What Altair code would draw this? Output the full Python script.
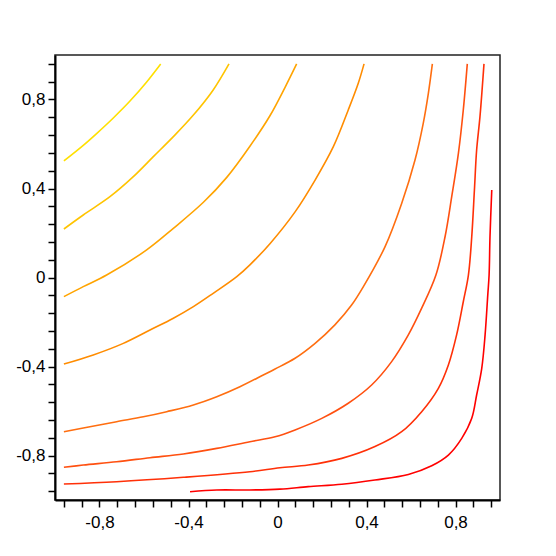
import altair as alt
import pandas as pd

# Contour levels (top-left = yellow ... bottom-right = red)
c1_x = [-0.960, -0.873, -0.813, -0.738, -0.663, -0.588, -0.525]
c1_y = [0.524, 0.594, 0.647, 0.717, 0.793, 0.879, 0.960]

c2_x = [-0.960, -0.873, -0.753, -0.648, -0.558, -0.468, -0.378, -0.289, -0.218]
c2_y = [0.218, 0.281, 0.363, 0.453, 0.543, 0.633, 0.730, 0.843, 0.960]

c3_x = [-0.960, -0.873, -0.768, -0.588, -0.468, -0.333, -0.228, -0.124, -0.034, 0.034, 0.086]
c3_y = [-0.086, -0.041, 0.011, 0.124, 0.221, 0.338, 0.450, 0.590, 0.727, 0.855, 0.960]

c4_x = [-0.960, -0.828, -0.693, -0.573, -0.468, -0.378, -0.289, -0.183, -0.124, -0.034,
        0.079, 0.169, 0.251, 0.318, 0.363, 0.389]
c4_y = [-0.389, -0.348, -0.296, -0.236, -0.183, -0.131, -0.071, 0.004, 0.057, 0.152,
        0.295, 0.438, 0.588, 0.753, 0.873, 0.960]

c5_x = [-0.960, -0.843, -0.723, -0.603, -0.498, -0.378, -0.273, -0.169, -0.064, -0.011,
        0.079, 0.169, 0.258, 0.333, 0.386, 0.483, 0.558, 0.618, 0.655, 0.678, 0.696]
c5_y = [-0.693, -0.671, -0.648, -0.626, -0.603, -0.573, -0.536, -0.491, -0.438, -0.411,
        -0.363, -0.296, -0.213, -0.124, -0.041, 0.138, 0.333, 0.528, 0.693, 0.828, 0.960]

c6_x = [-0.960, -0.873, -0.723, -0.573, -0.423, -0.273, -0.124, -0.011, 0.079, 0.199,
        0.318, 0.423, 0.513, 0.588, 0.648, 0.712, 0.753, 0.783, 0.813, 0.835, 0.853]
c6_y = [-0.853, -0.843, -0.828, -0.810, -0.793, -0.768, -0.738, -0.716, -0.685, -0.633,
        -0.565, -0.483, -0.378, -0.258, -0.138, 0.011, 0.183, 0.363, 0.558, 0.753, 0.960]

c7_x = [-0.960, -0.723, -0.423, -0.124, 0.011, 0.138, 0.289, 0.438, 0.558, 0.648,
        0.723, 0.768, 0.805, 0.835, 0.858, 0.873, 0.885, 0.895, 0.910, 0.928]
c7_y = [-0.928, -0.918, -0.898, -0.873, -0.855, -0.843, -0.813, -0.760, -0.693, -0.603,
        -0.498, -0.393, -0.258, -0.109, 0.011, 0.183, 0.393, 0.573, 0.723, 0.960]

c8_x = [-0.393, -0.273, -0.124, 0.011, 0.138, 0.289, 0.438, 0.588, 0.693, 0.768,
        0.828, 0.873, 0.895, 0.918, 0.933, 0.945, 0.951, 0.955, 0.963]
c8_y = [-0.963, -0.955, -0.955, -0.951, -0.940, -0.929, -0.910, -0.885, -0.846, -0.798,
        -0.723, -0.633, -0.528, -0.408, -0.258, -0.079, 0.011, 0.183, 0.393]

curve_names = ["c1", "c2", "c3", "c4", "c5", "c6", "c7", "c8"]
curve_colors = ["#FFE000", "#FFC400", "#FFA400", "#FF8C00", "#FF6E10", "#FF5010", "#FF3008", "#FF0000"]

tick_values = [-0.96, -0.88, -0.8, -0.72, -0.64, -0.56, -0.48, -0.4, -0.32, -0.24, -0.16, -0.08,
               0.0, 0.08, 0.16, 0.24, 0.32, 0.4, 0.48, 0.56, 0.64, 0.72, 0.8, 0.88, 0.96]

xs = [c1_x, c2_x, c3_x, c4_x, c5_x, c6_x, c7_x, c8_x]
ys = [c1_y, c2_y, c3_y, c4_y, c5_y, c6_y, c7_y, c8_y]

rows = []
for name, cx, cy in zip(curve_names, xs, ys):
    for i, (a, b) in enumerate(zip(cx, cy)):
        rows.append({"curve": name, "x": a, "y": b, "i": i})
df = pd.DataFrame(rows)

label_expr = ("(abs(datum.value) < 1e-9 || abs(abs(datum.value) - 0.4) < 1e-9 || "
              "abs(abs(datum.value) - 0.8) < 1e-9) ? replace(toString(datum.value), '.', ',') : ''")

axis_common = dict(
    values=tick_values, labelExpr=label_expr, grid=False, title=None,
    domainColor="black", domainWidth=2, tickColor="black", tickWidth=1.5, tickSize=7,
    labelFont="Liberation Sans", labelFontSize=17, labelColor="black",
    labelOverlap=False, labelFlush=False,
)

chart = alt.Chart(df).mark_line(strokeWidth=1.6, interpolate="catmull-rom").encode(
    x=alt.X("x:Q", scale=alt.Scale(domain=[-1, 1], nice=False, zero=False),
            axis=alt.Axis(labelPadding=7, **axis_common)),
    y=alt.Y("y:Q", scale=alt.Scale(domain=[-1, 1], nice=False, zero=False),
            axis=alt.Axis(labelPadding=3, **axis_common)),
    color=alt.Color("curve:N", scale=alt.Scale(domain=curve_names, range=curve_colors), legend=None),
    order="i:Q",
).properties(
    width=445, height=445,
    autosize=alt.AutoSizeParams(type="none"),
    padding={"left": 47, "top": 47, "right": 40, "bottom": 40},
).configure_view(stroke="#222222", strokeWidth=1.5)

chart.save("out.html", embed_options={"renderer": "svg", "actions": False})
